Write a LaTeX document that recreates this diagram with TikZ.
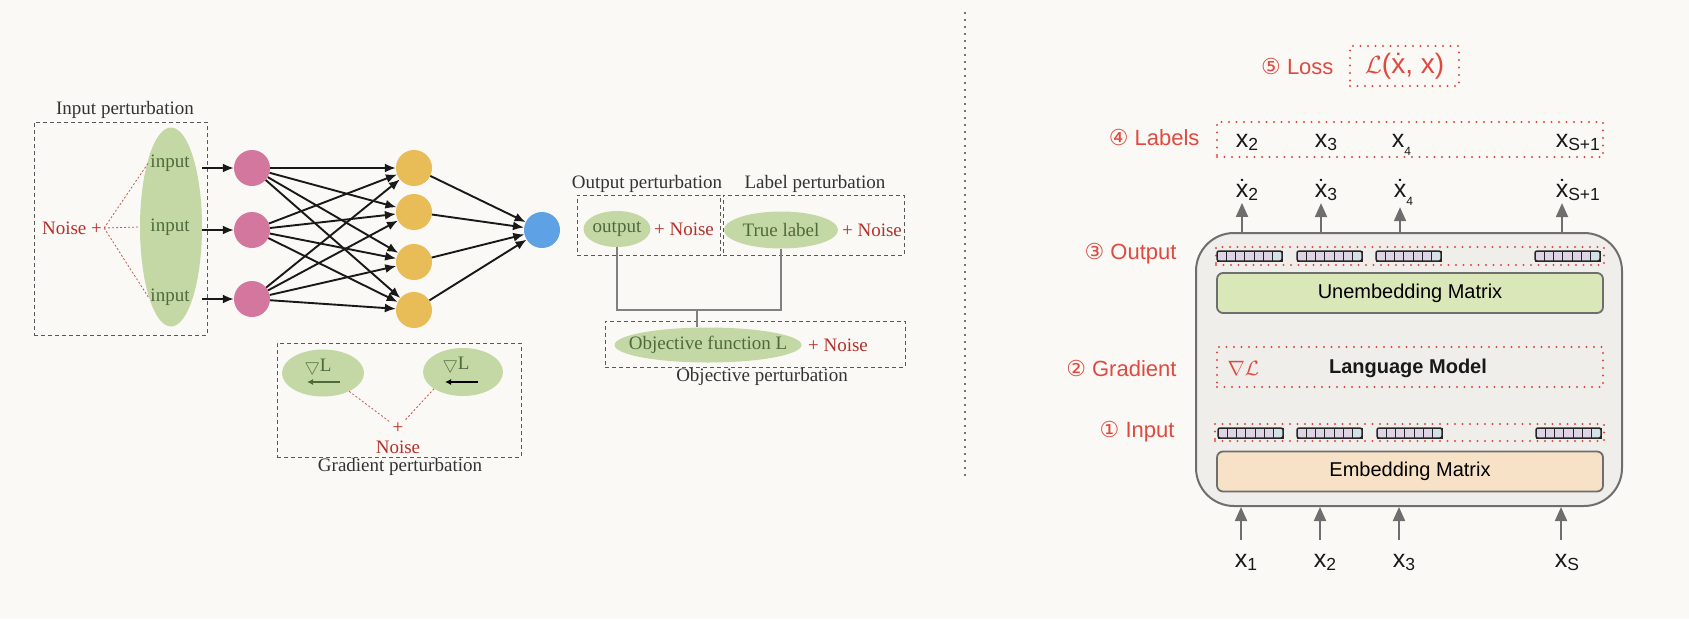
\documentclass[tikz,border=0pt]{standalone}
\usepackage{amsmath}
\usepackage{amssymb}
\usepackage{fontspec}
\setmainfont{Liberation Serif}
\newfontfamily\sansf{Liberation Sans}
\newfontfamily\symf{DejaVu Sans}
\usetikzlibrary{calc,positioning,shapes.geometric,arrows.meta}
\definecolor{bgcol}{HTML}{FAF9F5}
\definecolor{pinkc}{HTML}{D3779F}
\definecolor{yellowc}{HTML}{E8BC56}
\definecolor{bluec}{HTML}{5EA1E4}
\definecolor{ellgreen}{HTML}{C4D8A6}
\definecolor{txtgreen}{HTML}{4E6A3B}
\definecolor{noisered}{HTML}{B4302B}
\definecolor{labred}{HTML}{DF4A40}
\definecolor{boxgray}{HTML}{6E6E6E}
\definecolor{lmfill}{HTML}{EFEEEA}
\definecolor{unembfill}{HTML}{D9E7B9}
\definecolor{embfill}{HTML}{F7E2C8}
\definecolor{cellpurple}{HTML}{DDD4E6}
\definecolor{cellblue}{HTML}{D4E2E8}
\newcommand{\serifsz}{\fontsize{19}{22}\selectfont}
\newcommand{\redsz}{\sansf\fontsize{22}{26}\selectfont}
\newcommand{\tk}[1]{x\rlap{\textsubscript{#1}}}
\newcommand{\tkd}[1]{\.{x}\rlap{\textsubscript{#1}}}
\newcommand{\tklow}{\rlap{\raisebox{-8pt}{\fontsize{12}{13}\selectfont 4}}}
% one token vector of seven cells, left end at (#1,#2)
\newcommand{\tokvec}[2]{%
  \foreach \k in {0,...,5}
    \draw[cell, fill=cellpurple] (#1+\k*9.3,#2-5) rectangle ++(9.3,10);
  \draw[cell, fill=cellblue] (#1+55.8,#2-5) rectangle ++(9.2,10);
  \draw[cell, line width=1.5, rounded corners=2] (#1,#2-5) rectangle ++(65,10);
}

\begin{document}
\begin{tikzpicture}[x=1pt,y=-1pt,
    dashbox/.style={draw=black!65, line width=1, dash pattern=on 4pt off 3pt},
    greenell/.style={ellipse, fill=ellgreen, inner sep=0pt},
    gtxt/.style={text=txtgreen, font=\serifsz, inner sep=2pt},
    captxt/.style={text=black!80, font=\serifsz, inner sep=2pt},
    noisetxt/.style={text=noisered, font=\serifsz, inner sep=2pt},
    neuron/.style={circle, minimum size=36, inner sep=0pt},
    nnarr/.style={-{Latex[length=11,width=9]}, line width=1.9, black!90},
    redline/.style={noisered!80, line width=0.8, dash pattern=on 2pt off 2pt},
    gline/.style={draw=black!50, line width=1.3},
    divline/.style={draw=black!55, line width=2, dash pattern=on 2pt off 5pt},
    dotbox/.style={draw=labred, line width=2.2, line cap=round, dash pattern=on 0pt off 7.5pt},
    rowlab/.style={anchor=east, text=labred, font=\redsz},
    matbox/.style={draw=boxgray, line width=1.8, rounded corners=6, minimum width=386, minimum height=40, font=\sansf\fontsize{20}{24}\selectfont},
    garr/.style={-{Triangle[length=14,width=12]}, draw=boxgray, line width=2},
    cell/.style={draw=black!85, line width=0.9},
    tok/.style={inner sep=2pt, anchor=base, text=black!90, font=\sansf\fontsize{25}{28}\selectfont},
  ]
  \fill[bgcol] (0,0) rectangle (1689,619);
  \useasboundingbox (0,0) rectangle (1689,619);

  % input perturbation
  \node[dashbox, minimum width=173, minimum height=213] (inbox) at (120.5,228.5) {};
  \node[captxt] (intitle) at (125,110) {Input perturbation};
  \node[greenell, minimum width=62, minimum height=199] (inell) at (171,227) {};
  \foreach \i/\y in {1/163,2/227,3/297}
    \node[gtxt] (in\i) at (170,\y) {input};
  \node[noisetxt] (noise) at (72,228) {Noise +};
  \draw[redline] (noise.east) -- (in1.west);
  \draw[redline] (noise.east) -- (inell.west);
  \draw[redline] (noise.east) -- (in3.west);

  \foreach \i/\y in {1/168,2/230,3/299}
    \node[neuron, fill=pinkc] (p\i) at (252,\y) {};
  \foreach \j/\y in {1/168,2/212,3/262,4/310}
    \node[neuron, fill=yellowc] (h\j) at (414,\y) {};
  \node[neuron, fill=bluec] (o) at (542,230) {};
  \foreach \i in {1,2,3}
    \draw[nnarr] (inell.east |- p\i) -- (p\i);
  \foreach \i in {1,2,3}
    \foreach \j in {1,...,4}
      \draw[nnarr] (p\i) -- (h\j);
  \foreach \j in {1,...,4}
    \draw[nnarr] (h\j) -- (o);

  % output, label and objective perturbation
  \node[captxt] (outtitle) at (647,184) {Output perturbation};
  \node[captxt] (labtitle) at (815,184) {Label perturbation};
  \node[dashbox, minimum width=143, minimum height=60] (outbox) at (648.5,225) {};
  \node[dashbox, minimum width=181, minimum height=60] (labbox) at (813.5,225) {};
  \node[greenell, minimum width=67, minimum height=36] (outell) at (617,229) {};
  \node[gtxt] (outtxt) at (outell) {output};
  \node[noisetxt] (outnoise) at (684,229) {+ Noise};
  \node[greenell, minimum width=114, minimum height=37] (labell) at (781,230) {};
  \node[gtxt] (labtxt) at (labell) {True label};
  \node[noisetxt] (labnoise) at (872,230) {+ Noise};
  \node[dashbox, minimum width=300, minimum height=46] (objbox) at (755,344) {};
  \node[greenell, minimum width=187, minimum height=35] (objell) at (708,345) {};
  \node[gtxt] (objtxt) at (objell) {Objective function L};
  \node[noisetxt] (objnoise) at (838,345) {+ Noise};
  \node[captxt] (objtitle) at (762,377) {Objective perturbation};
  \coordinate (jn) at (697,310);
  \draw[gline] (outell.south) |- (jn) -| (labell.south);
  \draw[gline] (jn) -- (jn |- objell.north);

  % gradient perturbation
  \node[dashbox, minimum width=244, minimum height=114] (gradbox) at (399,400) {};
  \node[captxt] (gradtitle) at (400,467) {Gradient perturbation};
  \node[greenell, minimum width=82, minimum height=47] (gell1) at (323,373) {};
  \node[greenell, minimum width=80, minimum height=48] (gell2) at (463,372) {};
  \node[gtxt] (gl1) at (318,367) {$\bigtriangledown$L};
  \node[gtxt] (gl2) at (456,365) {$\bigtriangledown$L};
  \draw[-{Latex[length=6,width=6]}, line width=2, txtgreen] ([shift={(17,9)}]gell1.center) -- ([shift={(-16,9)}]gell1.center);
  \draw[-{Latex[length=6,width=6]}, line width=2, black] ([shift={(15,10)}]gell2.center) -- ([shift={(-18,10)}]gell2.center);
  \node[noisetxt] (gplus) at (398,428) {+};
  \node[noisetxt] (gnoise) at (398,447) {Noise};
  \draw[redline] (gell1.-35) -- (gplus);
  \draw[redline] (gell2.-150) -- (gplus);

  \draw[divline] (965,12) -- (965,478);

  % language model
  \node[draw=boxgray, fill=lmfill, line width=2, rounded corners=38, minimum width=426, minimum height=273] (lm) at (1409,369.5) {};
  \node[dotbox, minimum width=388, minimum height=18] (outrow) at (1410,256) {};
  \foreach \vx in {1217,1297,1376,1535} {\tokvec{\vx}{256}}
  \node[matbox, fill=unembfill] (unemb) at (1410,293) {Unembedding Matrix};
  \node[dotbox, minimum width=386, minimum height=40] (gradrow) at (1410,367) {};
  \node[anchor=west, text=labred, font=\fontsize{22}{26}\selectfont] (nabla) at (1224,368) {$\nabla\mathcal{L}$};
  \node[text=black!90, font=\sansf\bfseries\fontsize{20}{24}\selectfont] (lmname) at (1408,368) {Language Model};
  \node[dotbox, minimum width=389, minimum height=17] (inrow) at (1409.5,432.5) {};
  \foreach \vx in {1218,1297,1377,1536} {\tokvec{\vx}{433}}
  \node[matbox, fill=embfill] (emb) at (1410,471.5) {Embedding Matrix};

  \node[rowlab] (l1) at (1178,432) {{\symf ①} Input};
  \node[rowlab] (l2) at (1180,368) {{\symf ②} Gradient};
  \node[rowlab] (l3) at (1180,254) {{\symf ③} Output};
  \node[rowlab] (l4) at (1203,137) {{\symf ④} Labels};
  \node[rowlab] (l5) at (1337,66) {{\symf ⑤} Loss};

  \node[dotbox, minimum width=109, minimum height=40] (lossbox) at (1404.5,66) {};
  \node[text=labred, font=\sansf\fontsize{28}{32}\selectfont] (loss) at (lossbox) {$\mathcal{L}$(\.{x}, x)};
  \node[dotbox, minimum width=386, minimum height=35] (labrow) at (1410,139.5) {};

  \node[tok] (lb1) at (1242,147) {\tk{2}};
  \node[tok] (lb2) at (1321,147) {\tk{3}};
  \node[tok] (lb3) at (1398,147) {x\tklow};
  \node[tok] (lb4) at (1562,147) {\tk{S+1}};

  \node[tok] (dt1) at (1242,197) {\tkd{2}};
  \node[tok] (dt2) at (1321,197) {\tkd{3}};
  \node[tok] (dt3) at (1400,197) {\.{x}\tklow};
  \node[tok] (dt4) at (1562,197) {\tkd{S+1}};

  \node[tok] (bt1) at (1241,567) {\tk{1}};
  \node[tok] (bt2) at (1320,567) {\tk{2}};
  \node[tok] (bt3) at (1399,567) {\tk{3}};
  \node[tok] (bt4) at (1561,567) {\tk{S}};

  \foreach \c in {1,...,4}
    \draw[garr] (dt\c.south |- lm.north) -- (dt\c.south);
  \foreach \c in {1,...,4}
    \draw[garr] ([yshift=12]bt\c.north) -- (bt\c.north |- lm.south);
\end{tikzpicture}
\end{document}
